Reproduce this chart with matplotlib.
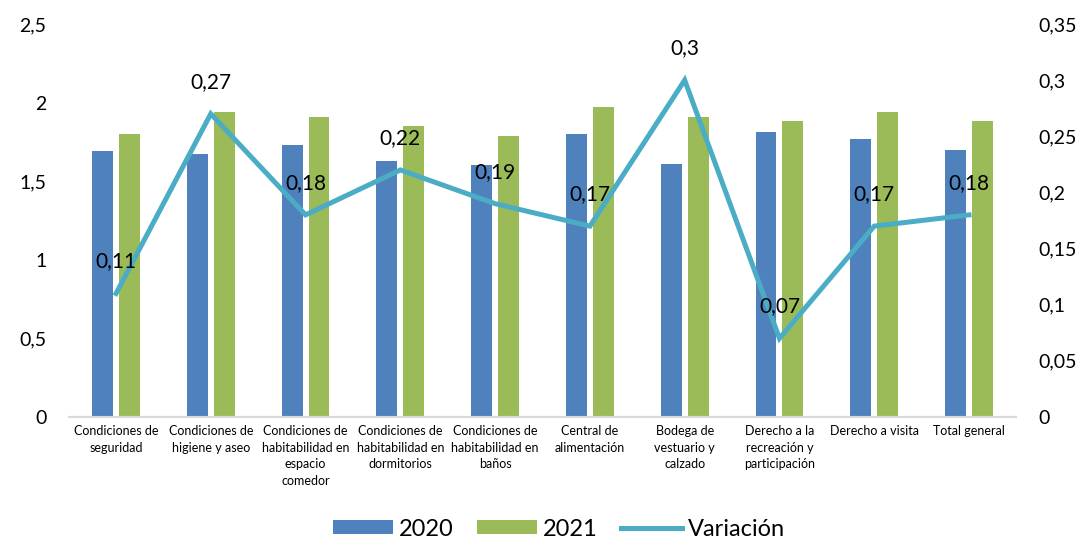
import numpy as np
import matplotlib.pyplot as plt
from matplotlib.ticker import FuncFormatter

plt.rcParams['font.family'] = ['Lato', 'DejaVu Sans']

categorias = ["Condiciones de\nseguridad", "Condiciones de\nhigiene y aseo",
              "Condiciones de\nhabitabilidad en\nespacio\ncomedor",
              "Condiciones de\nhabitabilidad en\ndormitorios",
              "Condiciones de\nhabitabilidad en\nbaños",
              "Central de\nalimentación", "Bodega de\nvestuario y\ncalzado",
              "Derecho a la\nrecreación y\nparticipación", "Derecho a visita",
              "Total general"]
v2020 = [1.69, 1.67, 1.73, 1.63, 1.60, 1.80, 1.61, 1.81, 1.77, 1.70]
v2021 = [1.80, 1.94, 1.91, 1.85, 1.79, 1.97, 1.91, 1.88, 1.94, 1.88]
variacion = [0.11, 0.27, 0.18, 0.22, 0.19, 0.17, 0.30, 0.07, 0.17, 0.18]

azul = '#4F81BD'
verde = '#9BBB59'
celeste = '#4BACC6'

def coma(v, pos=None):
    s = ('%.2f' % v).rstrip('0').rstrip('.')
    return s.replace('.', ',')

fig = plt.figure(figsize=(10.91, 5.42), dpi=100)
ax = fig.add_axes([0.0629, 0.2306, 0.8687, 0.7251])
ax2 = ax.twinx()

x = np.arange(len(categorias))
ancho = 0.22
b1 = ax.bar(x - 0.142, v2020, ancho, color=azul, label='2020')
b2 = ax.bar(x + 0.142, v2021, ancho, color=verde, label='2021')

l1, = ax2.plot(x, variacion, color=celeste, lw=3.6, label='Variación',
               solid_joinstyle='miter')
for xi, v in zip(x, variacion):
    ax2.annotate(coma(v), (xi, v), xytext=(0, 23), textcoords='offset points',
                 ha='center', va='center', fontsize=15)

ax.set_xlim(-0.5, len(categorias) - 0.5)
ax.set_ylim(0, 2.5)
ax2.set_ylim(0, 0.35)
ax.set_yticks([0, 0.5, 1, 1.5, 2, 2.5])
ax2.set_yticks([0, 0.05, 0.1, 0.15, 0.2, 0.25, 0.3, 0.35])
ax.yaxis.set_major_formatter(FuncFormatter(coma))
ax2.yaxis.set_major_formatter(FuncFormatter(coma))

ax.set_xticks(x)
ax.set_xticklabels(categorias, fontsize=9, linespacing=1.45)
ax.tick_params(axis='x', length=0, pad=6)
ax.tick_params(axis='y', length=0, pad=16, labelsize=14)
ax2.tick_params(axis='y', length=0, pad=16, labelsize=14)

for a in (ax, ax2):
    for s in ('top', 'left', 'right'):
        a.spines[s].set_visible(False)
    a.spines['bottom'].set_color('#D9D9D9')
    a.spines['bottom'].set_linewidth(1.5)

fig.legend([b1, b2, l1], ['2020', '2021', 'Variación'], loc='lower center',
           bbox_to_anchor=(0.512, -0.035), ncol=3, frameon=False, fontsize=17,
           handlelength=2.55, handleheight=0.55, columnspacing=1.0,
           handletextpad=0.25)

fig.savefig('out.png', dpi=100)
